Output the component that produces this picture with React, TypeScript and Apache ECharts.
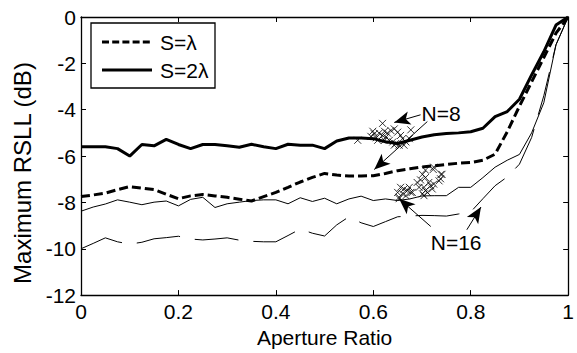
import { useEffect, useRef } from "react";
import * as echarts from "echarts";

const apertureRatio = [
  0, 0.025, 0.05, 0.075, 0.1, 0.125, 0.15, 0.175, 0.2, 0.225, 0.25, 0.275, 0.3, 0.325,
  0.35, 0.375, 0.4, 0.425, 0.45, 0.475, 0.5, 0.525, 0.55, 0.575, 0.6, 0.625, 0.65, 0.675,
  0.7, 0.725, 0.75, 0.775, 0.8, 0.825, 0.85, 0.875, 0.9, 0.925, 0.95, 0.975, 1,
];

// S = lambda, N = 8 (thick dashed)
const rsllS1N8 = [
  -7.75, -7.68, -7.6, -7.45, -7.32, -7.38, -7.45, -7.65, -7.84, -7.72, -7.66, -7.72, -7.78, -7.86,
  -7.94, -7.75, -7.57, -7.35, -7.12, -6.92, -6.75, -6.82, -6.86, -6.86, -6.85, -6.75, -6.63, -6.55,
  -6.47, -6.42, -6.36, -6.31, -6.28, -6.18, -5.92, -4.95, -3.85, -2.8, -1.75, -0.7, 0,
];

// S = 2 lambda, N = 8 (thick solid)
const rsllS2N8 = [
  -5.6, -5.6, -5.6, -5.68, -6.0, -5.5, -5.56, -5.28, -5.5, -5.68, -5.5, -5.5, -5.56, -5.62,
  -5.49, -5.6, -5.68, -5.49, -5.53, -5.53, -5.68, -5.35, -5.22, -5.22, -5.25, -5.38, -5.46, -5.32,
  -5.18, -5.08, -5.03, -5.0, -4.95, -4.8, -4.3, -4.08, -3.55, -2.5, -1.5, -0.35, 0,
];

// S = 2 lambda, N = 16 (thin solid)
const rsllS2N16 = [
  -8.38, -8.2, -8.07, -7.89, -7.99, -8.1, -7.99, -7.94, -8.15, -7.87, -7.78, -8.22, -8.06, -7.99,
  -7.92, -7.89, -7.89, -8.06, -7.8, -7.96, -7.82, -8.06, -7.85, -7.73, -7.92, -7.85, -7.92, -7.85,
  -7.72, -7.71, -7.71, -7.35, -7.35, -6.93, -6.48, -6.18, -5.93, -5.0, -3.7, -1.2, 0,
];

// S = lambda, N = 16 (thin long dash)
const rsllS1N16 = [
  -10.0, -9.77, -9.53, -9.7, -9.8, -9.72, -9.57, -9.52, -9.46, -9.58, -9.62, -9.58, -9.53, -9.63,
  -9.68, -9.7, -9.7, -9.43, -9.15, -9.33, -9.45, -8.97, -8.62, -8.88, -9.04, -8.83, -8.62, -8.59,
  -8.56, -8.57, -8.59, -8.5, -8.41, -7.84, -7.28, -6.9, -6.35, -5.2, -3.4, -1.2, 0,
];

const samplesN8 = [
  [0.568, -5.32], [0.619, -4.59], [0.677, -4.87], [0.599, -4.93], [0.602, -5.04], [0.612, -5.01],
  [0.623, -4.93], [0.629, -5.01], [0.636, -4.9], [0.643, -4.83], [0.65, -4.97], [0.595, -5.15],
  [0.606, -5.21], [0.619, -5.11], [0.626, -5.18], [0.633, -5.32], [0.64, -5.39], [0.646, -5.46],
  [0.653, -5.53], [0.663, -5.53], [0.667, -5.39], [0.66, -5.25], [0.674, -5.25], [0.609, -5.32],
  [0.623, -5.32], [0.656, -5.11], [0.643, -5.53],
];

const samplesN16 = [
  [0.707, -6.61], [0.723, -6.58], [0.739, -6.79], [0.738, -6.98], [0.735, -7.07], [0.701, -6.79],
  [0.697, -7.03], [0.707, -6.93], [0.714, -7.14], [0.718, -7.28], [0.721, -7.42], [0.704, -7.35],
  [0.707, -7.49], [0.701, -7.63], [0.704, -7.71], [0.69, -7.14], [0.694, -7.35], [0.656, -7.35],
  [0.663, -7.42], [0.67, -7.49], [0.677, -7.57], [0.66, -7.63], [0.653, -7.78], [0.667, -7.71],
  [0.674, -7.35], [0.65, -7.57], [0.724, -7.21], [0.711, -7.57], [0.653, -7.84], [0.68, -7.57],
  [0.724, -6.48], [0.741, -6.79],
];

const legendNames = ["S=λ", "S=2λ"];

// annotations in data coordinates
const annotationTexts = [
  { text: "N=8", at: [0.739, -4.17] },
  { text: "N=16", at: [0.77, -9.71] },
];
const annotationArrows = [
  { from: [0.697, -4.22], to: [0.643, -4.55] },
  { from: [0.711, -4.51], to: [0.602, -6.58] },
  { from: [0.718, -9.04], to: [0.653, -7.84] },
  { from: [0.792, -9.18], to: [0.821, -8.2] },
];

const FONT = "'Liberation Sans', Arial, Helvetica, sans-serif";

export default function App() {
  const ref = useRef<HTMLDivElement>(null);
  useEffect(() => {
    if (!ref.current) return;
    const chart = echarts.init(ref.current, null, { renderer: "svg" });
    const pair = (ys: number[]) => apertureRatio.map((x, i) => [x, ys[i]]);
    const axisLine = { show: true, onZero: false, lineStyle: { color: "#000", width: 1.3 } };
    const axisTick = { show: true, inside: true, length: 5, lineStyle: { color: "#000", width: 1 } };
    const crossSymbol = "path://M0,0L10,10M10,0L0,10";

    chart.setOption({
      animation: false,
      backgroundColor: "#fff",
      grid: { left: 81, right: 5, top: 17, bottom: 51 },
      xAxis: [
        {
          type: "value",
          min: 0,
          max: 1,
          interval: 0.2,
          position: "bottom",
          name: "Aperture Ratio",
          nameLocation: "middle",
          nameGap: 31,
          nameTextStyle: { color: "#000", fontSize: 21, fontFamily: FONT },
          axisLine,
          axisTick,
          axisLabel: { color: "#000", fontSize: 21, fontFamily: FONT, margin: 6 },
          splitLine: { show: false },
        },
        {
          type: "value",
          min: 0,
          max: 1,
          interval: 0.2,
          position: "top",
          axisLine,
          axisTick,
          axisLabel: { show: false },
          splitLine: { show: false },
        },
      ],
      yAxis: [
        {
          type: "value",
          min: -12,
          max: 0,
          interval: 2,
          position: "left",
          name: "Maximum RSLL (dB)",
          nameLocation: "middle",
          nameGap: 40,
          nameTextStyle: {
            color: "#000",
            fontSize: 24,
            fontFamily: FONT,
            padding: [0, 34, 0, 0],
          },
          axisLine,
          axisTick,
          axisLabel: { color: "#000", fontSize: 21, fontFamily: FONT, margin: 5 },
          splitLine: { show: false },
        },
        {
          type: "value",
          min: -12,
          max: 0,
          interval: 2,
          position: "right",
          axisLine,
          axisTick,
          axisLabel: { show: false },
          splitLine: { show: false },
        },
      ],
      series: [
        {
          name: legendNames[0],
          type: "line",
          data: pair(rsllS1N8),
          symbol: "none",
          lineStyle: { color: "#000", width: 3, type: [9, 4] },
          itemStyle: { color: "#000" },
        },
        {
          name: legendNames[1],
          type: "line",
          data: pair(rsllS2N8),
          symbol: "none",
          lineStyle: { color: "#000", width: 3, type: "solid" },
          itemStyle: { color: "#000" },
          markLine: {
            silent: true,
            symbol: ["none", "arrow"],
            symbolSize: [10, 16],
            label: { show: false },
            lineStyle: { color: "#000", width: 1, type: "solid" },
            data: annotationArrows.map((a) => [{ coord: a.from }, { coord: a.to }]),
          },
        },
        {
          name: "S=2λ, N=16",
          type: "line",
          data: pair(rsllS2N16),
          symbol: "none",
          lineStyle: { color: "#000", width: 1, type: "solid" },
          itemStyle: { color: "#000" },
        },
        {
          name: "S=λ, N=16",
          type: "line",
          data: pair(rsllS1N16),
          symbol: "none",
          lineStyle: { color: "#000", width: 1, type: [44, 15] },
          itemStyle: { color: "#000" },
        },
        {
          name: "N=8 samples",
          type: "scatter",
          data: samplesN8,
          symbol: crossSymbol,
          symbolSize: 7,
          itemStyle: { color: "transparent", borderColor: "#000", borderWidth: 1 },
          z: 5,
        },
        {
          name: "N=16 samples",
          type: "scatter",
          data: samplesN16,
          symbol: crossSymbol,
          symbolSize: 7,
          itemStyle: { color: "transparent", borderColor: "#000", borderWidth: 1 },
          z: 5,
        },
      ],
    });

    const texts = annotationTexts.map((a) => {
      const p = chart.convertToPixel({ gridIndex: 0 }, a.at) as number[];
      return {
        type: "text",
        x: p[0],
        y: p[1],
        z: 10,
        style: {
          text: a.text,
          fill: "#000",
          font: `21px ${FONT}`,
          align: "center",
          verticalAlign: "middle",
        },
      };
    });

    // legend box (drawn as graphics so that the icons are plain line samples)
    const legend = {
      type: "group",
      x: 91,
      y: 23,
      z: 20,
      children: [
        {
          type: "rect",
          shape: { x: 0, y: 0, width: 124, height: 65 },
          style: { fill: "#fff", stroke: "#000", lineWidth: 1.3 },
        },
        {
          type: "line",
          shape: { x1: 11, y1: 19, x2: 61, y2: 19 },
          style: { stroke: "#000", lineWidth: 3, lineDash: [7, 3.2] },
        },
        {
          type: "line",
          shape: { x1: 11, y1: 47, x2: 61, y2: 47 },
          style: { stroke: "#000", lineWidth: 3 },
        },
        {
          type: "text",
          x: 69,
          y: 19,
          style: {
            text: legendNames[0],
            fill: "#000",
            font: `21px ${FONT}`,
            align: "left",
            verticalAlign: "middle",
          },
        },
        {
          type: "text",
          x: 69,
          y: 47,
          style: {
            text: legendNames[1],
            fill: "#000",
            font: `21px ${FONT}`,
            align: "left",
            verticalAlign: "middle",
          },
        },
      ],
    };

    chart.setOption({ graphic: [...texts, legend] });

    return () => chart.dispose();
  }, []);
  return (
    <div
      ref={ref}
      style={{ position: "fixed", left: 0, top: 0, width: 577, height: 353, background: "#fff" }}
    />
  );
}
